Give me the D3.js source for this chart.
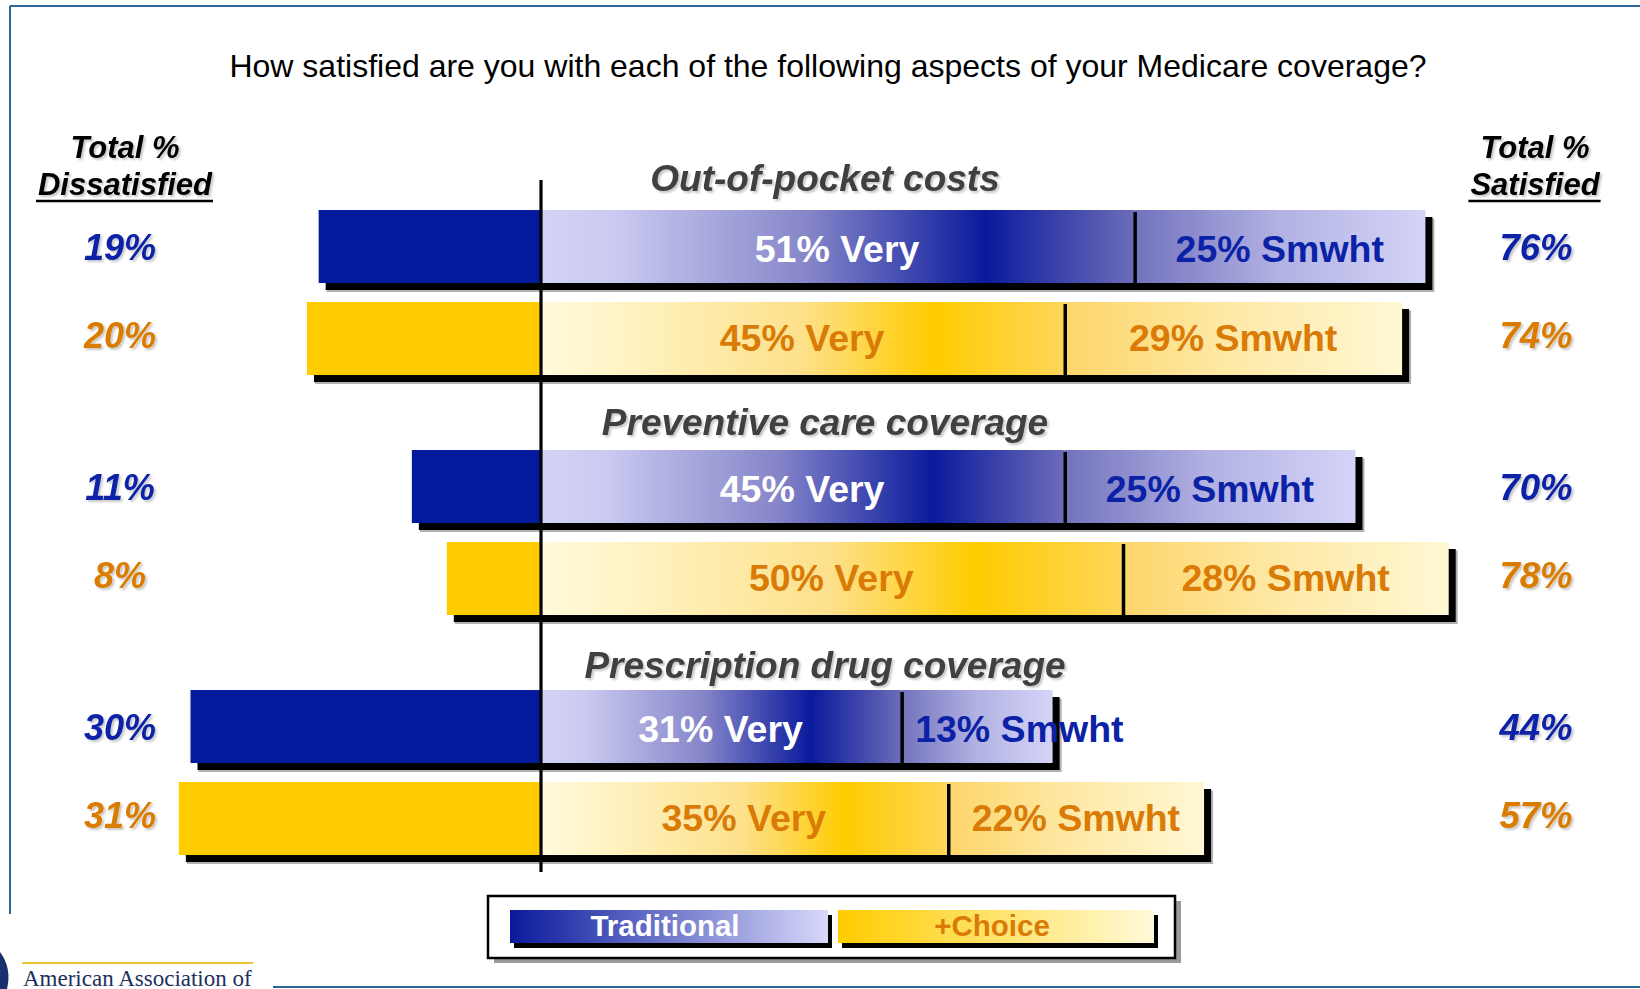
<!DOCTYPE html>
<html><head><meta charset="utf-8">
<script src="https://cdn.jsdelivr.net/npm/d3@7"></script>
<style>body{margin:0;background:#fff}svg{display:block}</style>
</head><body>
<script>
const title = "How satisfied are you with each of the following aspects of your Medicare coverage?";
const groups = ["Out-of-pocket costs", "Preventive care coverage", "Prescription drug coverage"];
const plans = ["Traditional", "+Choice"];
const veryTraditional = [51, 45, 31];
const smwhtTraditional = [25, 25, 13];
const satisfiedTraditional = [76, 70, 44];
const dissatisfiedTraditional = [19, 11, 30];
const veryChoice = [45, 50, 35];
const smwhtChoice = [29, 28, 22];
const satisfiedChoice = [74, 78, 57];
const dissatisfiedChoice = [20, 8, 31];
const leftHeader = ["Total %", "Dissatisfied"];
const rightHeader = ["Total %", "Satisfied"];
const footerText = "American Association of";

const W = 1640, H = 989;
const FONT = "'Liberation Sans', Arial, sans-serif";
const BLUE = "#0b22a6", ORANGE = "#d97b06";

const svg = d3.select("body").append("svg").attr("width", W).attr("height", H);
const defs = svg.append("defs");

function grad(id, stops) {
  const g = defs.append("linearGradient").attr("id", id).attr("x1", 0).attr("x2", 1).attr("y1", 0).attr("y2", 0);
  stops.forEach(s => g.append("stop").attr("offset", s[0]).attr("stop-color", s[1]));
}
grad("tVery", [[0, "#d3d3f7"], [0.12, "#cbcbf2"], [0.45, "#8686c9"], [0.75, "#0a1a9c"], [1, "#6c6cb8"]]);
grad("tSm", [[0, "#7272bd"], [0.5, "#b2b2e3"], [1, "#d4d4f8"]]);
grad("cVery", [[0, "#fffadb"], [0.15, "#fff4c6"], [0.5, "#fde08a"], [0.75, "#ffcc00"], [1, "#fdd65a"]]);
grad("cSm", [[0, "#fdd66a"], [0.5, "#fee9a8"], [1, "#fff8d4"]]);
grad("tLeg", [[0, "#0a1a9c"], [1, "#d8d8fa"]]);
grad("cLeg", [[0, "#ffcc00"], [1, "#fffad8"]]);

const f = defs.append("filter").attr("id", "tshadow").attr("x", "-10%").attr("y", "-20%").attr("width", "130%").attr("height", "150%");
f.append("feDropShadow").attr("dx", 2).attr("dy", 2).attr("stdDeviation", 0.8).attr("flood-color", "#000").attr("flood-opacity", 0.22);

// frame
svg.append("line").attr("x1", 10).attr("x2", W).attr("y1", 6).attr("y2", 6).attr("stroke", "#2c6596").attr("stroke-width", 2);
svg.append("line").attr("x1", 10).attr("x2", 10).attr("y1", 6).attr("y2", 914).attr("stroke", "#2c6596").attr("stroke-width", 2);
svg.append("line").attr("x1", 273).attr("x2", W).attr("y1", 987).attr("y2", 987).attr("stroke", "#2c6596").attr("stroke-width", 2);

// title
svg.append("text").attr("x", 828).attr("y", 77).attr("text-anchor", "middle")
  .attr("font-family", FONT).attr("font-size", 32).attr("fill", "#000").text(title);

// scales
const x = d3.scaleLinear().domain([0, 100]).range([540, 540 + 1165]);
const gY = d3.scaleBand().domain(groups).range([210, 930]);
const pY = d3.scaleBand().domain(plans).range([0, 165]).paddingInner(0.2065);
const bh = pY.bandwidth();

// headers
function header(lines, cx) {
  svg.append("text").attr("x", cx).attr("y", 158).attr("text-anchor", "middle")
    .attr("font-family", FONT).attr("font-size", 31).attr("font-weight", "bold").attr("font-style", "italic")
    .attr("filter", "url(#tshadow)").text(lines[0]);
  const t2 = svg.append("text").attr("x", cx).attr("y", 195).attr("text-anchor", "middle")
    .attr("font-family", FONT).attr("font-size", 31).attr("font-weight", "bold").attr("font-style", "italic")
    .attr("filter", "url(#tshadow)").text(lines[1]);
  const w = t2.node().getComputedTextLength();
  svg.append("line").attr("x1", cx - w / 2 - 2).attr("x2", cx + w / 2 + 1).attr("y1", 201).attr("y2", 201)
    .attr("stroke", "#000").attr("stroke-width", 2.5);
}
header(leftHeader, 125);
header(rightHeader, 1535);

// rows
const rows = [];
groups.forEach((g, i) => {
  rows.push({ g, plan: plans[0], very: veryTraditional[i], sm: smwhtTraditional[i], sat: satisfiedTraditional[i], dis: dissatisfiedTraditional[i] });
  rows.push({ g, plan: plans[1], very: veryChoice[i], sm: smwhtChoice[i], sat: satisfiedChoice[i], dis: dissatisfiedChoice[i] });
});

// group titles
svg.selectAll(".gt").data(groups).join("text").attr("class", "gt")
  .attr("x", 825).attr("y", (d, i) => gY(d) - 19 + i * 3.5).attr("text-anchor", "middle")
  .attr("font-family", FONT).attr("font-size", 37).attr("font-weight", "bold").attr("font-style", "italic")
  .attr("fill", "#404040").attr("filter", "url(#tshadow)").text(d => d);

rows.forEach(r => {
  const y0 = gY(r.g) + pY(r.plan);
  const isT = r.plan === plans[0];
  const col = isT ? BLUE : ORANGE;
  const gr = svg.append("g");
  // shadows
  gr.append("rect").attr("x", x(-r.dis) + 8).attr("y", y0 + 8.5).attr("width", x(r.sat) - x(-r.dis) + 1).attr("height", bh + 0.5)
    .attr("fill", "#b0b0b0");
  gr.append("rect").attr("x", x(-r.dis) + 7).attr("y", y0 + 7).attr("width", x(r.sat) - x(-r.dis)).attr("height", bh)
    .attr("fill", "#000");
  // dissatisfied
  gr.append("rect").attr("x", x(-r.dis)).attr("y", y0).attr("width", x(0) - x(-r.dis)).attr("height", bh)
    .attr("fill", isT ? "#031a9c" : "#ffcc00");
  // very
  gr.append("rect").attr("x", x(0)).attr("y", y0).attr("width", x(r.very) - x(0)).attr("height", bh)
    .attr("fill", isT ? "url(#tVery)" : "url(#cVery)");
  gr.append("rect").attr("x", x(r.very)).attr("y", y0).attr("width", x(r.very + r.sm) - x(r.very)).attr("height", bh)
    .attr("fill", isT ? "url(#tSm)" : "url(#cSm)");
  gr.append("line").attr("x1", x(r.very) + 1).attr("x2", x(r.very) + 1).attr("y1", y0 + 2).attr("y2", y0 + bh)
    .attr("stroke", "#000").attr("stroke-width", 3.5);
  // labels in bar
  const cy = y0 + bh / 2 + (isT ? 15 : 13);
  gr.append("text").attr("x", (x(0) + x(r.very)) / 2).attr("y", cy).attr("text-anchor", "middle")
    .attr("font-family", FONT).attr("font-size", 37.5).attr("font-weight", "bold")
    .attr("fill", isT ? "#fff" : ORANGE).text(r.very + "% Very");
  const st = gr.append("text").attr("y", cy).attr("font-family", FONT).attr("font-size", 37.5).attr("font-weight", "bold")
    .attr("fill", col).text(r.sm + "% Smwht");
  const sw = st.node().getComputedTextLength();
  const segW = x(r.very + r.sm) - x(r.very);
  if (sw + 20 > segW) st.attr("x", x(r.very) + 14).attr("text-anchor", "start");
  else st.attr("x", (x(r.very) + x(r.very + r.sm)) / 2).attr("text-anchor", "middle");
  // side totals
  const vy = y0 + bh / 2 + (isT ? 13 : 10);
  svg.append("text").attr("x", 120).attr("y", vy).attr("text-anchor", "middle")
    .attr("font-family", FONT).attr("font-size", 36).attr("font-weight", "bold").attr("font-style", "italic")
    .attr("fill", col).attr("filter", "url(#tshadow)").text(r.dis + "%");
  svg.append("text").attr("x", 1536).attr("y", vy).attr("text-anchor", "middle")
    .attr("font-family", FONT).attr("font-size", 36.5).attr("font-weight", "bold").attr("font-style", "italic")
    .attr("fill", col).attr("filter", "url(#tshadow)").text(r.sat + "%");
});

// center axis line
const lastBottom = gY(groups[groups.length - 1]) + pY(plans[1]) + bh;
svg.append("line").attr("x1", x(0) + 1).attr("x2", x(0) + 1).attr("y1", gY(groups[0]) - 30).attr("y2", lastBottom + 17)
  .attr("stroke", "#000").attr("stroke-width", 3.2);

// legend
const leg = svg.append("g");
leg.append("rect").attr("x", 494).attr("y", 901).attr("width", 687).attr("height", 62).attr("fill", "#9a9a9a");
leg.append("rect").attr("x", 488).attr("y", 896).attr("width", 687).attr("height", 62).attr("fill", "#fff")
  .attr("stroke", "#000").attr("stroke-width", 2.5);
const legItems = [
  { name: plans[0], x0: 510, x1: 828, fill: "url(#tLeg)", tc: "#fff" },
  { name: plans[1], x0: 838, x1: 1154, fill: "url(#cLeg)", tc: ORANGE }
];
legItems.forEach(d => {
  leg.append("rect").attr("x", d.x0 + 4).attr("y", 915).attr("width", d.x1 - d.x0).attr("height", 33).attr("fill", "#000");
  leg.append("rect").attr("x", d.x0).attr("y", 910).attr("width", d.x1 - d.x0).attr("height", 33).attr("fill", d.fill);
  leg.append("text").attr("x", (d.x0 + d.x1) / 2 - 4).attr("y", 936).attr("text-anchor", "middle")
    .attr("font-family", FONT).attr("font-size", 29.5).attr("font-weight", "bold").attr("fill", d.tc).text(d.name);
});

// footer logo
svg.append("path").attr("d", "M0,952 Q12,968 7,989 L0,989 Z").attr("fill", "#1a2f6e");
svg.append("line").attr("x1", 22).attr("x2", 253).attr("y1", 963).attr("y2", 963).attr("stroke", "#f0c432").attr("stroke-width", 2);
svg.append("text").attr("x", 23).attr("y", 986).attr("font-family", "'Liberation Serif', 'Times New Roman', serif")
  .attr("font-size", 23).attr("fill", "#1c2f5e").text(footerText);
</script>
</body></html>
